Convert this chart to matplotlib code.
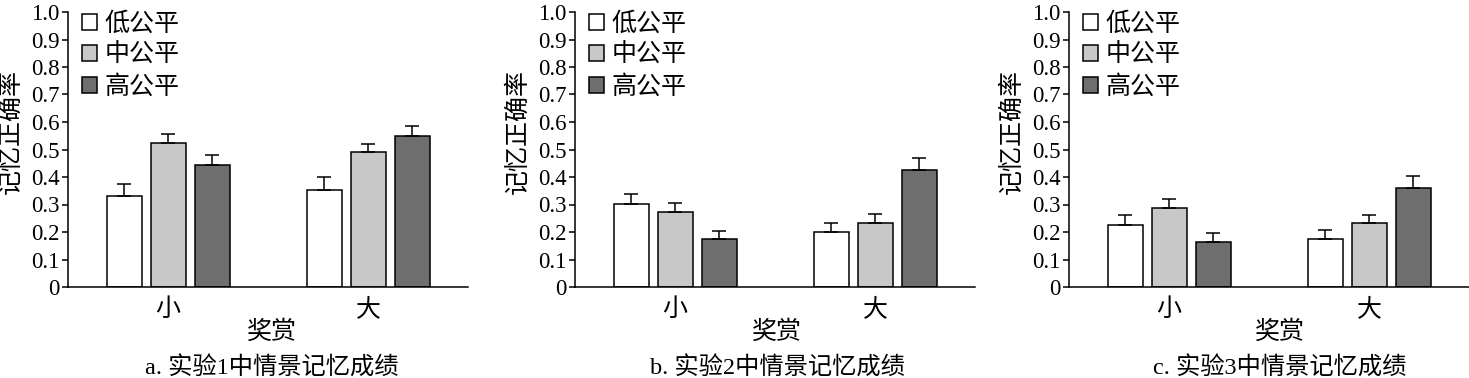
import numpy as np
import matplotlib
matplotlib.use("Agg")
import matplotlib.pyplot as plt

plt.rcParams['font.family'] = ['Liberation Serif', 'Noto Sans CJK SC']

groups = ['小', '大']
levels = ['低公平', '中公平', '高公平']
colors = ['#ffffff', '#c8c8c8', '#6e6e6e']

# mean accuracy, rows = level (low, mid, high), cols = reward (small, large)
exp1_mean = [[0.331, 0.354], [0.524, 0.490], [0.445, 0.548]]
exp1_err = [[0.045, 0.046], [0.032, 0.031], [0.035, 0.036]]
exp2_mean = [[0.301, 0.199], [0.272, 0.233], [0.173, 0.426]]
exp2_err = [[0.039, 0.034], [0.033, 0.032], [0.029, 0.042]]
exp3_mean = [[0.224, 0.174], [0.288, 0.231], [0.165, 0.361]]
exp3_err = [[0.038, 0.034], [0.033, 0.032], [0.031, 0.044]]

captions = ['a. 实验1中情景记忆成绩', 'b. 实验2中情景记忆成绩', 'c. 实验3中情景记忆成绩']
panels = [(exp1_mean, exp1_err), (exp2_mean, exp2_err), (exp3_mean, exp3_err)]
lefts = [68, 575, 1069]
label_shift = [4, 2, 11]  # px, captions sit a bit right of the axes centre

W, H = 1469, 378
fig = plt.figure(figsize=(W / 100, H / 100), dpi=100)

x = np.arange(len(groups))
width = 0.175
step = 0.22

for k, ((means, errs), cap) in enumerate(zip(panels, captions)):
    ax = fig.add_axes([lefts[k] / W, 1 - 287 / H, 400 / W, 275 / H])
    for i, lev in enumerate(levels):
        ax.bar(x + (i - 1) * step, means[i], width, color=colors[i],
               edgecolor='black', linewidth=1.1, label=lev, zorder=2)
        ax.errorbar(x + (i - 1) * step, means[i],
                    yerr=[np.zeros(len(groups)), errs[i]], fmt='none',
                    ecolor='black', elinewidth=1.1, capsize=5, capthick=1.1, zorder=3)
    ax.set_xlim(-0.5, 1.5)
    ax.set_ylim(0, 1.0)
    ax.set_yticks(np.arange(0, 1.01, 0.1))
    ax.set_yticklabels(['0'] + ['%.1f' % v for v in np.arange(0.1, 1.01, 0.1)])
    ax.set_xticks(x)
    ax.set_xticklabels(groups, fontsize=18)
    ax.tick_params(axis='x', length=0, pad=8)
    ax.tick_params(axis='y', length=4, width=1.1, labelsize=16.5, pad=2)
    for s in ['top', 'right']:
        ax.spines[s].set_visible(False)
    for s in ['left', 'bottom']:
        ax.spines[s].set_linewidth(1.1)
    ax.set_ylabel('记忆正确率', fontsize=18)
    ax.yaxis.set_label_coords(-0.114, 0.567)
    xc = 0.5 + label_shift[k] / 400
    ax.set_xlabel('奖赏', fontsize=18, va='center')
    ax.xaxis.set_label_coords(xc, -0.164)
    ax.text(xc, -0.295, cap, transform=ax.transAxes, ha='center', va='center', fontsize=17.5)
    ax.legend(loc='upper left', bbox_to_anchor=(0.035, 1.0), frameon=False,
              fontsize=18, handlelength=0.6, handleheight=0.6, handletextpad=0.3,
              labelspacing=0.33, borderpad=0, borderaxespad=0)

fig.savefig('out.png', dpi=100)
